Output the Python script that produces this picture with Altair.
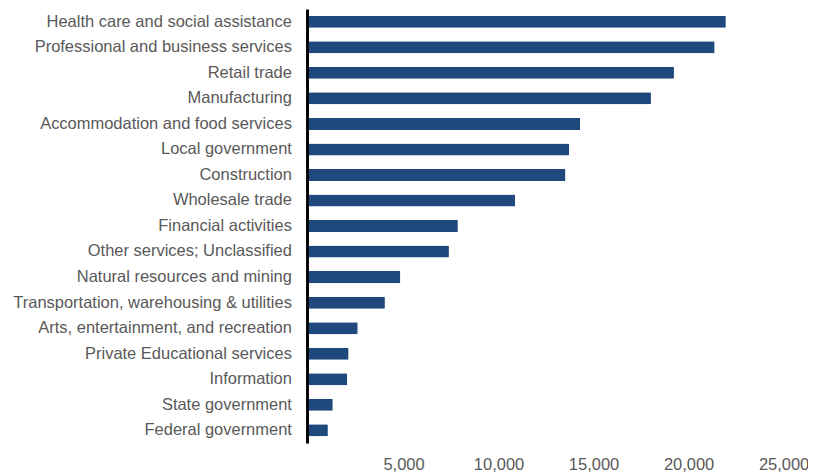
import altair as alt
import pandas as pd

categories = [
    "Health care and social assistance",
    "Professional and business services",
    "Retail trade\u00a0",
    "Manufacturing",
    "Accommodation and food services",
    "Local government",
    "Construction",
    "Wholesale trade",
    "Financial activities",
    "Other services; Unclassified",
    "Natural resources and mining",
    "Transportation, warehousing & utilities",
    "Arts, entertainment, and recreation",
    "Private Educational services",
    "Information",
    "State government",
    "Federal government",
]
values = [21960, 21370, 19230, 18020, 14300, 13710, 13520, 10880,
          7860, 7390, 4830, 4020, 2590, 2110, 2030, 1280, 1020]
tick_values = [5000, 10000, 15000, 20000, 25000]

df = pd.DataFrame({"industry": categories, "value": values})

FONT = "Arial, Liberation Sans"
GREY = "#595959"

chart = (
    alt.Chart(df)
    .mark_bar(color="#1f497d", cornerRadius=1)
    .encode(
        x=alt.X(
            "value:Q",
            scale=alt.Scale(domain=[0, 25000], nice=False, zero=True),
            axis=alt.Axis(
                values=tick_values, format=",.0f", title=None, domain=False,
                ticks=False, tickSize=0, grid=False, labelPadding=14,
                labelFlush=False, labelBound=False,
                labelColor=GREY, labelFontSize=16.9, labelFont=FONT,
                labelOverlap=False,
            ),
        ),
        y=alt.Y(
            "industry:N",
            sort=categories,
            scale=alt.Scale(paddingInner=0.53, paddingOuter=0.265),
            axis=alt.Axis(
                title=None, domain=True, domainColor="black", domainWidth=3,
                ticks=False, tickSize=0, grid=False, labelPadding=16, offset=1.5,
                labelColor=GREY, labelFontSize=16.9, labelFont=FONT,
                labelLimit=400,
            ),
        ),
    )
    .properties(
        width=487,
        height=445,
        autosize=alt.AutoSizeParams(type="none"),
        padding={"left": 308, "top": -5, "right": 25, "bottom": 40},
    )
    .configure_view(stroke=None)
)

chart.save("out.html", embed_options={"renderer": "svg", "actions": False})
